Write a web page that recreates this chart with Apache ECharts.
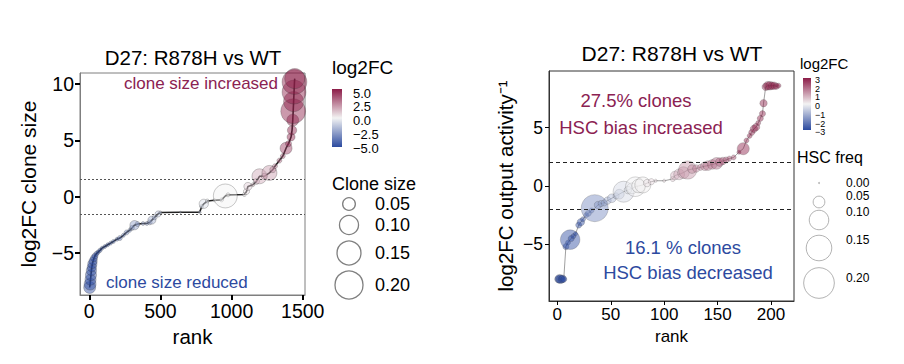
<!DOCTYPE html>
<html><head><meta charset="utf-8">
<script src="https://cdn.jsdelivr.net/npm/echarts@6/dist/echarts.min.js"></script>
<style>html,body{margin:0;padding:0;background:#fff}#c{width:904px;height:364px}</style>
</head><body><div id="c"></div>
<script>
// ---------- data: left panel (clone size) ----------
const leftRank = [3,6,9,12,15,18,22,27,33,40,50,62,75,90,110,130,150,170,195,215,240,262,285,300,318,340,378,405,425,440,460,484,500,640,776,790,805,830,880,930,956,975,1090,1105,1115,1150,1175,1196,1230,1266,1290,1305,1336,1360,1383,1400,1418,1425,1430,1433,1436,1439,1442,1444];
const leftFC = [-8.1,-7.8,-7.4,-7.0,-6.6,-6.3,-6.0,-5.75,-5.5,-5.3,-5.1,-4.95,-4.8,-4.6,-4.45,-4.3,-4.15,-4.0,-3.8,-3.7,-3.45,-3.2,-3.0,-2.8,-2.55,-2.45,-2.4,-2.4,-2.3,-2.1,-1.85,-1.55,-1.42,-1.4,-1.4,-0.9,-0.65,-0.4,-0.33,-0.3,0.05,0.15,0.18,0.45,0.9,1.05,1.35,1.8,1.8,2.1,2.4,2.7,3.2,3.6,4.3,4.7,5.3,5.9,6.8,7.6,8.45,9.3,10.2,10.5];
const leftSize = [0.045,0.045,0.04,0.04,0.035,0.03,0.03,0.025,0.02,0.016,0.012,0.01,0.01,0.009,0.009,0.009,0.009,0.009,0.009,0.012,0.009,0.012,0.009,0.012,0.03,0.012,0.009,0.009,0.012,0.024,0.012,0.016,0.0067,0.0045,0.0067,0.009,0.03,0.009,0.0067,0.009,0.15,0.009,0.009,0.016,0.024,0.009,0.016,0.066,0.016,0.066,0.016,0.012,0.012,0.012,0.045,0.016,0.024,0.03,0.045,0.16,0.11,0.15,0.16,0.11];

// ---------- data: right panel (output activity) ----------
const rightRank = [1,2,3,4,5,6,8,10,12,13,15,17,20,22,24,27,29,32,35,38,41,44,47,51,55,58,62,66,70,73,76,80,84,88,92,100,108,110,114,118,122,126,130,134,138,141,145,149,152,155,158,161,165,170,174,177,180,182,184,186,188,190,192,193,195,197,199,201,203,205,207];
const rightFC = [-8.0,-7.95,-8.0,-8.0,-7.95,-8.0,-5.2,-4.85,-4.6,-4.5,-4.3,-4.1,-3.35,-3.1,-2.85,-2.5,-2.34,-2.1,-1.9,-1.63,-1.5,-1.45,-1.25,-1.05,-0.85,-0.7,-0.49,-0.35,-0.2,-0.06,0.0,0.09,0.25,0.37,0.45,0.45,0.6,0.9,1.0,1.15,1.37,1.45,1.5,1.6,1.7,1.75,1.85,1.94,2.05,2.15,2.23,2.35,2.45,2.9,3.2,3.9,4.3,4.6,4.9,5.05,5.4,5.8,6.2,7.1,8.5,8.6,8.6,8.6,8.6,8.55,8.6];
const rightSize = [0.03,0.035,0.035,0.03,0.03,0.025,0.025,0.021,0.1,0.025,0.021,0.018,0.025,0.03,0.021,0.021,0.025,0.021,0.163,0.03,0.025,0.025,0.03,0.035,0.025,0.04,0.11,0.03,0.045,0.1,0.06,0.075,0.03,0.025,0.015,0.015,0.021,0.035,0.045,0.05,0.09,0.035,0.03,0.025,0.035,0.04,0.04,0.05,0.035,0.03,0.025,0.021,0.021,0.018,0.052,0.021,0.021,0.025,0.03,0.03,0.021,0.025,0.025,0.03,0.03,0.035,0.035,0.03,0.03,0.025,0.021];

// ---------- ticks / labels ----------
const leftTicksX = [0,500,1000,1500];
const leftTicksY = [-5,0,5,10];
const rightTicksX = [0,50,100,150,200];
const rightTicksY = [-5,0,5];
const leftCut = 1.585;
const rightCut = 2;
const leftSizeLegend = [0.05,0.10,0.15,0.20];
const rightSizeLegend = [0.00,0.05,0.10,0.15,0.20];
const leftColorLabels = ['5.0','2.5','0.0','\u22122.5','\u22125.0'];
const rightColorLabels = ['3','2','1','0','\u22121','\u22122','\u22123'];

const FF = '"Liberation Sans", Arial, Helvetica, sans-serif';
const LOW = '#2b4a9f', MID = '#f3f3f3', HIGH = '#8c1c48';
const dL = s => Math.max(1.8, 68.5*Math.sqrt(s) - 2.6);
const dR = s => Math.max(1.2, 85*Math.sqrt(s) - 7.3);

const leftData = leftRank.map((r,i)=>[r,leftFC[i],leftSize[i]]);
const rightData = rightRank.map((r,i)=>[r,rightFC[i],rightSize[i]]);
const fmt = v => String(v).replace('-','\u2212');

function xAxisCfg(gi,min,max,ticks,nameGap,fs,nameFs,tickW,tickLen,margin,lineColor){
  return {type:'value',gridIndex:gi,min:min,max:max,name:'rank',nameLocation:'middle',nameGap:nameGap,
    nameTextStyle:{fontSize:nameFs,color:'#000',fontFamily:FF},
    axisLine:{show:true,onZero:false,lineStyle:{color:lineColor,width:1}},splitLine:{show:false},
    axisTick:{show:true,customValues:ticks,length:tickLen,lineStyle:{color:'#000',width:tickW}},
    axisLabel:{customValues:ticks,fontSize:fs,color:'#000',margin:margin,fontFamily:FF,formatter:fmt}};
}
function yAxisCfg(gi,min,max,ticks,name,nameGap,fs,nameFs,tickW,tickLen,margin,lineColor){
  return {type:'value',gridIndex:gi,min:min,max:max,name:name,nameLocation:'middle',nameGap:nameGap,
    nameTextStyle:{fontSize:nameFs,color:'#000',fontFamily:FF},
    axisLine:{show:true,onZero:false,lineStyle:{color:lineColor,width:1}},splitLine:{show:false},
    axisTick:{show:true,customValues:ticks,length:tickLen,lineStyle:{color:'#000',width:tickW}},
    axisLabel:{customValues:ticks,fontSize:fs,color:'#000',margin:margin,fontFamily:FF,formatter:fmt}};
}
function txt(x,y,text,fs,fill,align,valign){
  return {type:'text',x:x,y:y,silent:true,style:{text:text,fontSize:fs,fontFamily:FF,fill:fill,align:align||'left',verticalAlign:valign||'middle'}};
}
function grad(){
  return new echarts.graphic.LinearGradient(0,0,0,1,[{offset:0,color:HIGH},{offset:0.5,color:MID},{offset:1,color:LOW}]);
}

const graphics = [];
// annotations
graphics.push(txt(278,83,'clone size increased',17,'#8b2252','right'));
graphics.push(txt(106,282,'clone size reduced',17,'#2d4aa0','left'));
graphics.push(txt(636,100,'27.5% clones',18.5,'#8b2252','center'));
graphics.push(txt(641,127,'HSC bias increased',18.5,'#8b2252','center'));
graphics.push(txt(683,247,'16.1 % clones',18.5,'#2d4aa0','center'));
graphics.push(txt(688,272,'HSC bias decreased',18.5,'#2d4aa0','center'));
// left legends
graphics.push(txt(332,67,'log2FC',19,'#000','left'));
graphics.push({type:'rect',shape:{x:332,y:89,width:10,height:58},style:{fill:grad()},silent:true});
leftColorLabels.forEach((t,i)=>graphics.push(txt(353,93+i*13.8,t,13,'#000','left')));
graphics.push(txt(332,183.5,'Clone size',18,'#000','left'));
const lCy = [204,225,253,285];
leftSizeLegend.forEach((s,i)=>{
  graphics.push({type:'circle',shape:{cx:349,cy:lCy[i],r:dL(s)/2},style:{fill:'none',stroke:'#808080',lineWidth:1.3},silent:true});
  graphics.push(txt(375,lCy[i],s.toFixed(2),18,'#000','left'));
});
// right legends
graphics.push(txt(800,63,'log2FC',15,'#000','left'));
graphics.push({type:'rect',shape:{x:803,y:78,width:8,height:52},style:{fill:grad()},silent:true});
rightColorLabels.forEach((t,i)=>graphics.push(txt(815,80+i*8.7,t,9,'#000','left')));
graphics.push(txt(797,157,'HSC freq',16,'#000','left'));
const rCy = [183,202,220,248,283];
const rLy = [183,196,212,240,278];
rightSizeLegend.forEach((s,i)=>{
  graphics.push({type:'circle',shape:{cx:819,cy:rCy[i],r:dR(s)/2},style:{fill:'none',stroke:'#a0a0a0',lineWidth:0.8},silent:true});
  graphics.push(txt(846,rLy[i],s.toFixed(2),12,'#000','left'));
});

const option = {
  animation:false,
  backgroundColor:'#fff',
  textStyle:{fontFamily:FF},
  title:[
    {text:'D27: R878H vs WT',left:188,top:42,textAlign:'center',textStyle:{fontSize:20.5,fontWeight:'normal',color:'#000',fontFamily:FF}},
    {text:'D27: R878H vs WT',left:667,top:38,textAlign:'center',textStyle:{fontSize:21,fontWeight:'normal',color:'#000',fontFamily:FF}}
  ],
  grid:[
    {left:80,top:73,width:225,height:222,show:true,borderColor:'#7f7f7f',borderWidth:1,backgroundColor:'transparent',containLabel:false},
    {left:549,top:71,width:245,height:230,show:true,borderColor:'#333',borderWidth:1,backgroundColor:'transparent',containLabel:false}
  ],
  xAxis:[
    xAxisCfg(0,-65,1516,leftTicksX,30,19.5,20.5,2,5,6,'#7f7f7f'),
    xAxisCfg(1,-7.8,221.5,rightTicksX,25,17,17,1,4,5,'#333')
  ],
  yAxis:[
    yAxisCfg(0,-8.77,11.0,leftTicksY,'log2FC clone size',41,19.5,21,2,5,6,'#7f7f7f'),
    yAxisCfg(1,-9.86,9.86,rightTicksY,'log2FC output activity\u207B\u00B9',33,17.5,20.5,1,4,6,'#333')
  ],
  visualMap:[
    {type:'continuous',show:false,seriesIndex:1,dimension:1,min:-5,max:5,inRange:{color:[LOW,MID,HIGH]}},
    {type:'continuous',show:false,seriesIndex:3,dimension:1,min:-3,max:3,inRange:{color:[LOW,MID,HIGH]}}
  ],
  series:[
    {type:'line',xAxisIndex:0,yAxisIndex:0,data:leftData.map(d=>[d[0],d[1]]),showSymbol:false,silent:true,
      lineStyle:{color:'#222',width:1.6},z:2,
      markLine:{silent:true,symbol:'none',label:{show:false},lineStyle:{color:'#555',type:[2,2],width:1},
        data:[{yAxis:leftCut},{yAxis:-leftCut}]}},
    {type:'scatter',xAxisIndex:0,yAxisIndex:0,data:leftData,symbolSize:v=>dL(v[2]),clip:true,z:3,
      itemStyle:{opacity:0.45,borderColor:'#333',borderWidth:0.6}},
    {type:'line',xAxisIndex:1,yAxisIndex:1,data:rightData.map(d=>[d[0],d[1]]),showSymbol:false,silent:true,
      lineStyle:{color:'#777',width:0.7},z:2,
      markLine:{silent:true,symbol:'none',label:{show:false},lineStyle:{color:'#222',type:[4,3],width:1},
        data:[{yAxis:rightCut},{yAxis:-rightCut}]}},
    {type:'scatter',xAxisIndex:1,yAxisIndex:1,data:rightData,symbolSize:v=>dR(v[2]),clip:true,z:3,
      itemStyle:{opacity:0.45,borderColor:'#444',borderWidth:0.5}}
  ],
  graphic:graphics
};
const chart = echarts.init(document.getElementById('c'),null,{renderer:'svg',width:904,height:364});
chart.setOption(option);
</script></body></html>
